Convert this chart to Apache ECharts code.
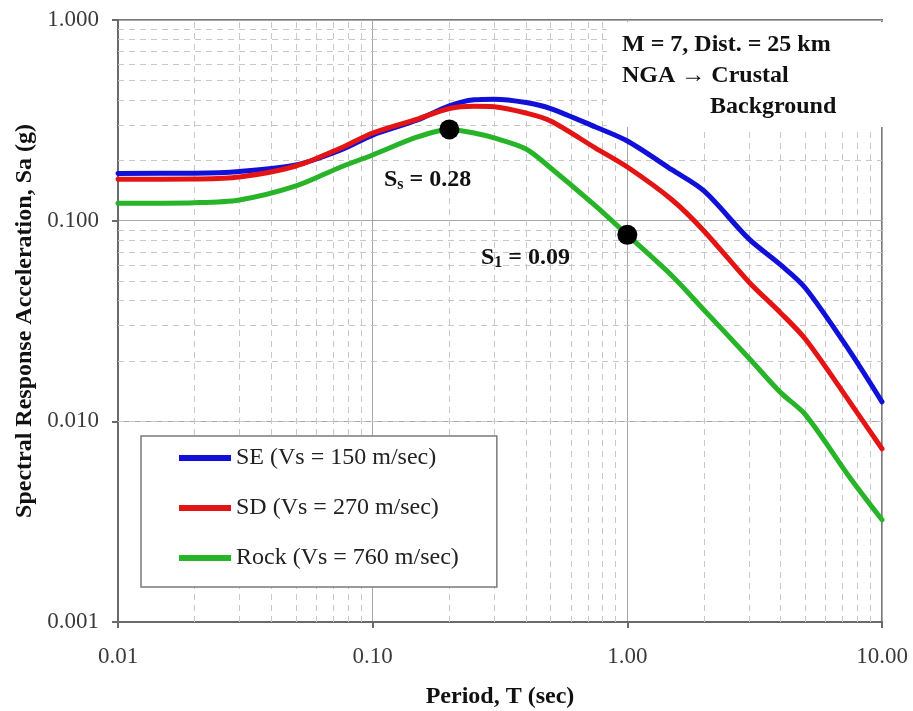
<!DOCTYPE html>
<html>
<head>
<meta charset="utf-8">
<script src="https://cdn.jsdelivr.net/npm/echarts@6/dist/echarts.min.js"></script>
<style>html,body{margin:0;padding:0;background:#fff}#c{width:913px;height:711px}</style>
</head>
<body>
<div id="c"></div>
<script>
// Periods (sec)
var periods = [0.01, 0.02, 0.03, 0.05, 0.075, 0.1, 0.15, 0.2, 0.25, 0.3, 0.4, 0.5, 0.75, 1, 1.5, 2, 3, 4, 5, 7.5, 10];
// Spectral acceleration (g)
var seValues   = [0.172, 0.1725, 0.176, 0.1895, 0.225, 0.267, 0.3175, 0.373, 0.400, 0.403, 0.388, 0.362, 0.293, 0.2495, 0.179, 0.1406, 0.0811, 0.0602, 0.0462, 0.0222, 0.0125];
var sdValues   = [0.1608, 0.1614, 0.1651, 0.1873, 0.2302, 0.2735, 0.321, 0.362, 0.372, 0.370, 0.344, 0.314, 0.230, 0.185, 0.1268, 0.0889, 0.0495, 0.0347, 0.0257, 0.0124, 0.0073];
var rockValues = [0.1221, 0.1229, 0.1268, 0.1489, 0.1852, 0.2125, 0.2612, 0.2847, 0.2735, 0.2583, 0.2276, 0.1831, 0.1184, 0.0849, 0.0530, 0.0359, 0.0207, 0.0139, 0.0108, 0.00522, 0.00323];
var seriesNames = ['SE (Vs = 150 m/sec)', 'SD (Vs = 270 m/sec)', 'Rock (Vs = 760 m/sec)'];
var seriesColors = ['#1010d8', '#e41414', '#28b428'];
// Design points
var designPeriods = [0.2, 1.0];
var designValues = [0.285, 0.085];
// Axis decades
var xDecades = [0.01, 0.1, 1, 10];
var yDecades = [0.001, 0.01, 0.1, 1];

function minorValues(decades) {
  var out = [];
  for (var i = 0; i < decades.length - 1; i++) {
    for (var k = 2; k <= 9; k++) out.push(+(decades[i] * k).toPrecision(3));
  }
  return out;
}
var minorX = minorValues(xDecades);
var minorY = minorValues(yDecades);

function pairs(xs, ys) { return xs.map(function (x, i) { return [x, ys[i]]; }); }

var serif = '"Liberation Serif", "Times New Roman", serif';
var chart = echarts.init(document.getElementById('c'));
var curveData = [seValues, sdValues, rockValues];

var series = [{
  type: 'line', name: 'grid', data: [], z: 1, silent: true,
  markLine: {
    silent: true, symbol: ['none', 'none'], animation: false, z: 1,
    label: { show: false },
    emphasis: { disabled: true },
    lineStyle: { type: [6, 5], color: '#c8c8c8', width: 1 },
    data: minorX.map(function (v) { return { xAxis: v }; })
      .concat(minorY.map(function (v) { return { yAxis: v }; }))
  }
}];
curveData.forEach(function (vals, i) {
  series.push({
    type: 'line', name: seriesNames[i], data: pairs(periods, vals),
    smooth: 0.3, symbol: 'none', z: 3,
    emphasis: { disabled: true },
    lineStyle: { color: seriesColors[i], width: 5, type: 'solid', cap: 'round', join: 'round' },
    itemStyle: { color: seriesColors[i], borderWidth: 0 }
  });
});
series.push({
  type: 'scatter', name: 'design', data: pairs(designPeriods, designValues),
  symbolSize: 20, z: 5, itemStyle: { color: '#000', opacity: 1 },
  emphasis: { disabled: true }
});

chart.setOption({
  animation: false,
  backgroundColor: '#fff',
  grid: { left: 118, right: 31, top: 20, bottom: 89, show: true, borderColor: '#7a7a7a', borderWidth: 2,
    containLabel: false, outerBoundsMode: 'none' },
  xAxis: {
    type: 'log', logBase: 10, min: 0.01, max: 10,
    name: 'Period, T (sec)', nameLocation: 'middle', nameGap: 63,
    nameTextStyle: { fontFamily: serif, fontWeight: 'bold', fontSize: 24, color: '#111' },
    axisLine: { show: true, lineStyle: { color: '#6a6a6a', width: 2 } },
    axisTick: { show: true, length: 6, lineStyle: { color: '#6a6a6a', width: 2 } },
    axisLabel: { fontFamily: serif, fontSize: 23, color: '#3a3a3a', margin: 23,
      formatter: function (v) { return Number(v).toFixed(2); } },
    splitLine: { show: true, lineStyle: { color: '#a8a8a8', width: 1 } }
  },
  yAxis: {
    type: 'log', logBase: 10, min: 0.001, max: 1,
    name: 'Spectral Response Acceleration, Sa (g)', nameLocation: 'middle', nameGap: 80,
    nameTextStyle: { fontFamily: serif, fontWeight: 'bold', fontSize: 24, color: '#111' },
    axisLine: { show: true, lineStyle: { color: '#6a6a6a', width: 2 } },
    axisTick: { show: true, length: 6, lineStyle: { color: '#6a6a6a', width: 2 } },
    axisLabel: { fontFamily: serif, fontSize: 23, color: '#3a3a3a', margin: 19,
      formatter: function (v) { return Number(v).toFixed(3); } },
    splitLine: { show: true, lineStyle: { color: '#a8a8a8', width: 1 } }
  },
  legend: {
    data: seriesNames, orient: 'vertical', left: 141, top: 436, z: 20,
    backgroundColor: '#fff', borderColor: '#7a7a7a', borderWidth: 1.5,
    padding: [10, 38, 17, 38], itemGap: 26, itemWidth: 52, itemHeight: 6,
    icon: 'rect',
    itemStyle: { borderWidth: 0 },
    textStyle: { fontFamily: serif, fontSize: 24, color: '#222', lineHeight: 24 }
  },
  graphic: [
    { type: 'rect', left: 607, top: 22, z: 10, silent: true,
      shape: { width: 278, height: 105 }, style: { fill: '#fff' } },
    { type: 'text', left: 622, top: 33, z: 11,
      style: { text: 'M = 7, Dist. = 25 km', font: 'bold 24px ' + serif, fill: '#111' } },
    { type: 'text', left: 622, top: 64, z: 11,
      style: { text: 'NGA \u2192 Crustal', font: 'bold 24px ' + serif, fill: '#111' } },
    { type: 'text', left: 710, top: 95, z: 11,
      style: { text: 'Background', font: 'bold 24px ' + serif, fill: '#111' } },
    { type: 'text', left: 384, top: 168, z: 11,
      style: { text: '{a|S}{b|s}{a| = 0.28}', rich: {
        a: { font: 'bold 24px ' + serif, fill: '#111' },
        b: { font: 'bold 16px ' + serif, fill: '#111', verticalAlign: 'bottom', padding: [10, 0, 0, 0] } } } },
    { type: 'text', left: 481, top: 246, z: 11,
      style: { text: '{a|S}{b|1}{a| = 0.09}', rich: {
        a: { font: 'bold 24px ' + serif, fill: '#111' },
        b: { font: 'bold 16px ' + serif, fill: '#111', verticalAlign: 'bottom', padding: [10, 0, 0, 0] } } } }
  ],
  series: series
});
</script>
</body>
</html>
